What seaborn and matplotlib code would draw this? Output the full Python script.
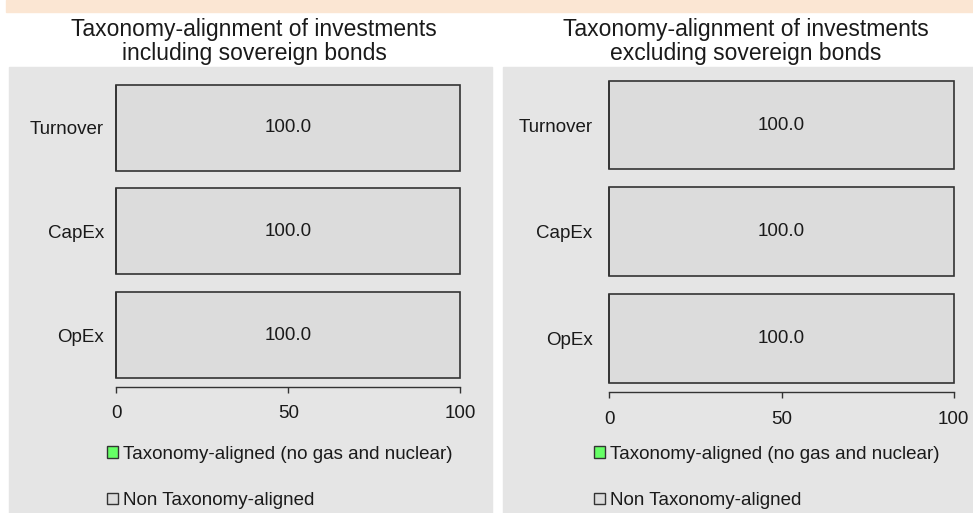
import pandas as pd
import seaborn as sns
import matplotlib.pyplot as plt
from matplotlib.patches import Rectangle, Patch

# data
categories = ["Turnover", "CapEx", "OpEx"]
incl_aligned = [0.0, 0.0, 0.0]
incl_non_aligned = [100.0, 100.0, 100.0]
excl_aligned = [0.0, 0.0, 0.0]
excl_non_aligned = [100.0, 100.0, 100.0]
titles = ["Taxonomy-alignment of investments\nincluding sovereign bonds",
          "Taxonomy-alignment of investments\nexcluding sovereign bonds"]
legend_labels = ["Taxonomy-aligned (no gas and nuclear)", "Non Taxonomy-aligned"]
x_ticks = [0, 50, 100]

green = "#66ff66"
grey_bar = "#dcdcdc"
panel_grey = "#e5e5e5"
edge = "#333333"
text_col = "#1a1a1a"

sns.set_style("white")
plt.rcParams["font.family"] = ["Liberation Sans", "DejaVu Sans"]

fig = plt.figure(figsize=(9.73, 5.13), dpi=100)

# peach band at the top and the two grey panels
fig.add_artist(Rectangle((6 / 973, 1 - 12 / 513), 1, 12 / 513, transform=fig.transFigure,
                         color="#fbe6d3", zorder=0))
fig.add_artist(Rectangle((9 / 973, 0), 483 / 973, 446 / 513, transform=fig.transFigure,
                         color=panel_grey, zorder=0))
fig.add_artist(Rectangle((503 / 973, 0), 470 / 973, 446 / 513, transform=fig.transFigure,
                         color=panel_grey, zorder=0))

ax1 = fig.add_axes([0.1195, 0.2456, 0.3535, 0.6065])
ax2 = fig.add_axes([0.6262, 0.2359, 0.354, 0.6245])

panels = [
    (ax1, incl_aligned, incl_non_aligned, 254, 9, 9, (107, 446)),
    (ax2, excl_aligned, excl_non_aligned, 746, 12, 9.5, (594, 446)),
]

fs = 13.5
for i, (ax, aligned, non_aligned, tx, ypad, xpad, leg_xy) in enumerate(panels):
    df = pd.DataFrame({"category": categories, "aligned": aligned, "non_aligned": non_aligned})
    df["total"] = df["aligned"] + df["non_aligned"]

    # stacked bars: draw the total first, the aligned part on top
    sns.barplot(data=df, x="total", y="category", orient="h", color=grey_bar, saturation=1,
                edgecolor=edge, linewidth=1.2, width=0.83, ax=ax)
    sns.barplot(data=df, x="aligned", y="category", orient="h", color=green, saturation=1,
                edgecolor=edge, linewidth=1.2, width=0.83, ax=ax)
    for bar in ax.patches:
        bar.set_clip_on(False)
    ax.bar_label(ax.containers[0], labels=[f"{v:.1f}" for v in non_aligned],
                 label_type="center", fontsize=fs, color=text_col)

    ax.set_facecolor("none")
    ax.set_xlim(0, 100)
    ax.set_xticks(x_ticks)
    ax.set_xlabel("")
    ax.set_ylabel("")
    for s in ["top", "right", "left"]:
        ax.spines[s].set_visible(False)
    ax.spines["bottom"].set_color(edge)
    ax.spines["bottom"].set_linewidth(1.0)
    ax.tick_params(axis="y", left=False, length=0, pad=ypad, labelsize=fs, labelcolor=text_col)
    ax.tick_params(axis="x", bottom=True, length=4, width=1, color=edge, direction="out",
                   pad=xpad, labelsize=fs, labelcolor=text_col)

    fig.text(tx / 973, 1 - 18 / 513, titles[i], ha="center", va="top", fontsize=16.5,
             linespacing=1.05, color=text_col)

    handles = [Patch(facecolor=green, edgecolor=edge, linewidth=1),
               Patch(facecolor=grey_bar, edgecolor=edge, linewidth=1)]
    ax.legend(handles, legend_labels, loc="upper left",
              bbox_to_anchor=(leg_xy[0] / 973, 1 - leg_xy[1] / 513),
              bbox_transform=fig.transFigure, frameon=False, fontsize=fs,
              handlelength=0.6, handleheight=0.6, handletextpad=0.25,
              labelspacing=1.55, borderpad=0, borderaxespad=0, labelcolor=text_col)

fig.savefig("out.png", dpi=100)
